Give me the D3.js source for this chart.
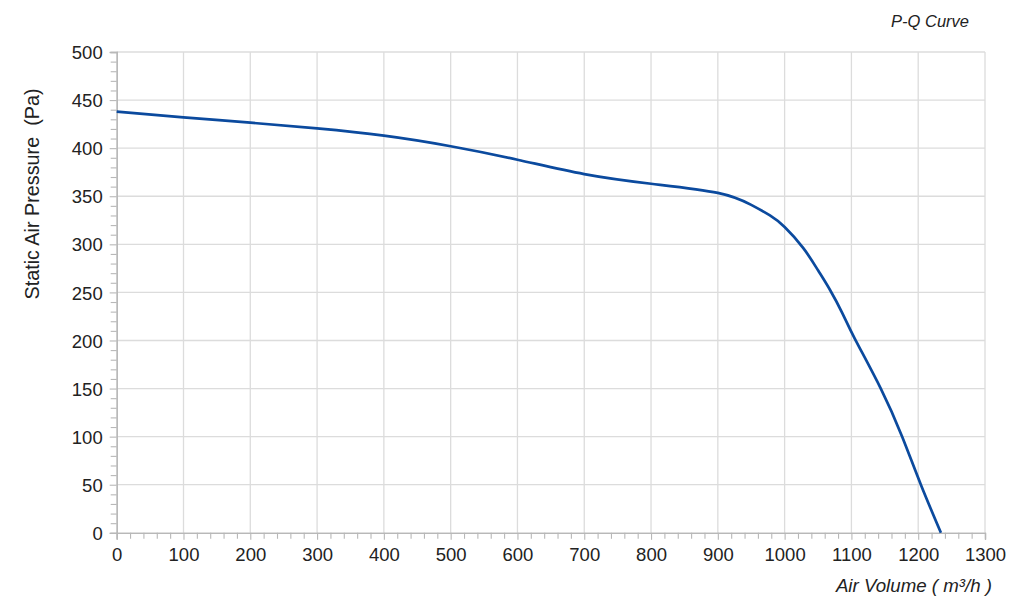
<!DOCTYPE html>
<html><head><meta charset="utf-8">
<script src="https://cdn.jsdelivr.net/npm/d3@7"></script>
<style>body{margin:0;background:#fff}svg{display:block}text{font-family:"Liberation Sans",Arial,sans-serif}</style>
</head><body><svg id="c" width="1024" height="609"></svg>
<script>
const airVolume = [0,100,200,300,400,500,600,700,800,900,950,978,1000,1028,1050,1068,1086,1105,1144,1176,1204,1234];
const pressure  = [438,432,426.5,420.5,413,402,388,373,363,353.5,341,330,318,296,273,252.5,229,202,150,100,50,0];
const xTicks = [0,100,200,300,400,500,600,700,800,900,1000,1100,1200,1300];
const yTicks = [0,50,100,150,200,250,300,350,400,450,500];
const chartTitle = "P-Q Curve";
const xTitle = "Air Volume ( m³/h )";
const yTitle = "Static Air Pressure  (Pa)";

const svg = d3.select("#c");
const L = 116.7, R = 985, T = 52, B = 532.8;
const x = d3.scaleLinear().domain([0,1300]).range([L,R]);
const y = d3.scaleLinear().domain([0,500]).range([B,T]);
const grid = "#dcdcdc", axisC = "#b8b8b8";

// grid
svg.append("g").selectAll("line").data(xTicks.slice(1)).join("line")
  .attr("x1",d=>x(d)).attr("x2",d=>x(d)).attr("y1",T).attr("y2",B)
  .attr("stroke",grid).attr("stroke-width",1.3);
svg.append("g").selectAll("line").data(yTicks.slice(1)).join("line")
  .attr("x1",L).attr("x2",R).attr("y1",d=>y(d)).attr("y2",d=>y(d))
  .attr("stroke",grid).attr("stroke-width",1.3);

// x axis
const xa = svg.append("g").attr("transform",`translate(0,${B})`)
  .call(d3.axisBottom(x).tickValues(xTicks).tickSize(7).tickPadding(5).tickFormat(d3.format("d")));
const xm = svg.append("g").attr("transform",`translate(0,${B})`)
  .call(d3.axisBottom(x).tickValues(d3.range(0,1301,20).filter(v=>v%100)).tickSize(6).tickFormat(""));
// y axis
const ya = svg.append("g").attr("transform",`translate(${L},0)`)
  .call(d3.axisLeft(y).tickValues(yTicks).tickSize(7).tickPadding(7).tickFormat(d3.format("d")));
const ym = svg.append("g").attr("transform",`translate(${L},0)`)
  .call(d3.axisLeft(y).tickValues(d3.range(0,501,10).filter(v=>v%50)).tickSize(6).tickFormat(""));
[xa,xm,ya,ym].forEach(g=>{
  g.selectAll(".domain").attr("stroke",axisC).attr("stroke-width",1.3);
  g.selectAll(".tick line").attr("stroke",axisC).attr("stroke-width",1.1);
  g.selectAll("text").attr("font-size",18.5).attr("fill","#222").attr("font-family","Liberation Sans, Arial, sans-serif");
});
xa.selectAll("text").attr("dy","0.85em");
ya.selectAll("text").attr("dy","0.36em");

// curve
const pts = airVolume.map((v,i)=>[v,pressure[i]]);
svg.append("path").datum(pts)
  .attr("d", d3.line().x(d=>x(d[0])).y(d=>y(d[1])).curve(d3.curveNatural))
  .attr("fill","none").attr("stroke","#0b4a9e").attr("stroke-width",2.7);

// titles
svg.append("text").attr("x",969).attr("y",27).attr("text-anchor","end")
  .attr("font-size",16.5).attr("font-style","italic").attr("fill","#222").text(chartTitle);
svg.append("text").attr("x",992).attr("y",592).attr("text-anchor","end")
  .attr("font-size",18.7).attr("font-style","italic").attr("fill","#222").text(xTitle);
svg.append("text").attr("transform","translate(38.5,194) rotate(-90)").attr("text-anchor","middle")
  .attr("font-size",19.8).attr("fill","#222").style("white-space","pre").text(yTitle);
</script></body></html>
